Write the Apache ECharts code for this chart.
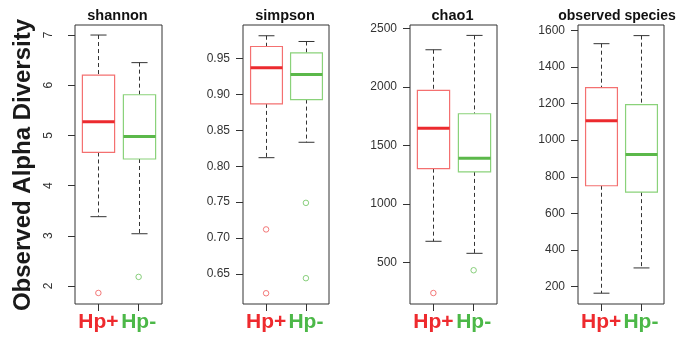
<!DOCTYPE html>
<html>
<head>
<meta charset="utf-8">
<script src="https://cdn.jsdelivr.net/npm/echarts@6.0.0/dist/echarts.min.js"></script>
<style>
  html, body { margin: 0; padding: 0; background: #fff; }
  #chart { width: 686px; height: 338px; }
</style>
</head>
<body>
<div id="chart"></div>
<script>
// groups on the x axis (positions 1 and 2)
const categories = ["Hp+", "Hp-"];
const panelTitles = ["shannon", "simpson", "chao1", "observed species"];

// [lower whisker, Q1, median, Q3, upper whisker] for Hp+ and Hp-
const shannonStats = [[3.38, 4.66, 5.27, 6.2, 7.0], [3.04, 4.53, 4.98, 5.81, 6.45]];
const simpsonStats = [[0.812, 0.887, 0.9375, 0.967, 0.982], [0.8335, 0.893, 0.928, 0.958, 0.974]];
const chao1Stats = [[680, 1302, 1647, 1973, 2320], [577, 1274, 1391, 1772, 2443]];
const speciesStats = [[164, 751, 1106, 1287, 1527], [302, 716, 921, 1194, 1571]];

// outliers per group
const shannonOutliers = [[1.86], [2.18]];
const simpsonOutliers = [[0.712, 0.623], [0.749, 0.644]];
const chao1Outliers = [[237], [432]];
const speciesOutliers = [[], []];

// tick labels on the y axes
const shannonTicks = [2, 3, 4, 5, 6, 7];
const simpsonTicks = [0.65, 0.7, 0.75, 0.8, 0.85, 0.9, 0.95];
const chao1Ticks = [500, 1000, 1500, 2000, 2500];
const speciesTicks = [200, 400, 600, 800, 1000, 1200, 1400, 1600];

const FONT = "'Liberation Sans', Arial, Helvetica, sans-serif";
const boxColors = ["#f47070", "#8ad27a"];
const medianColors = ["#ec2a2e", "#5bb84a"];
const pointColors = ["#f05a5a", "#6cc35c"];
const labelColors = ["#ee2a2e", "#4cb848"];
const ink = "#333";

const panels = [
  { stats: shannonStats, outliers: shannonOutliers, ticks: shannonTicks, min: 1.64, max: 7.2, rotate: 90, margin: 20, fmt: (v) => String(v) },
  { stats: simpsonStats, outliers: simpsonOutliers, ticks: simpsonTicks, min: 0.608, max: 0.997, rotate: 0, margin: 13, fmt: (v) => v.toFixed(2) },
  { stats: chao1Stats, outliers: chao1Outliers, ticks: chao1Ticks, min: 143, max: 2532, rotate: 0, margin: 13, fmt: (v) => String(v) },
  { stats: speciesStats, outliers: speciesOutliers, ticks: speciesTicks, min: 105, max: 1629, rotate: 0, margin: 13, fmt: (v) => String(v) },
];

const gridLefts = [75, 243, 410, 578];
const gridWidths = [87, 86, 87, 86];

function renderBox(params, api) {
  const x = api.value(0);
  const lo = api.coord([x, api.value(1)]);
  const q1 = api.coord([x, api.value(2)]);
  const med = api.coord([x, api.value(3)]);
  const q3 = api.coord([x, api.value(4)]);
  const hi = api.coord([x, api.value(5)]);
  const bw = api.size([0.8, 0])[0];
  const cw = bw / 2;
  const cx = Math.round(lo[0]) + 0.5;
  const i = params.dataIndex;
  const dash = { stroke: ink, lineWidth: 1, lineDash: [4, 3] };
  const solid = { stroke: ink, lineWidth: 1 };
  return {
    type: "group",
    children: [
      { type: "line", shape: { x1: cx, y1: hi[1], x2: cx, y2: q3[1] }, style: dash },
      { type: "line", shape: { x1: cx, y1: q1[1], x2: cx, y2: lo[1] }, style: dash },
      { type: "line", shape: { x1: cx - cw / 2, y1: hi[1], x2: cx + cw / 2, y2: hi[1] }, style: solid },
      { type: "line", shape: { x1: cx - cw / 2, y1: lo[1], x2: cx + cw / 2, y2: lo[1] }, style: solid },
      {
        type: "rect",
        shape: { x: cx - bw / 2, y: q3[1], width: bw, height: q1[1] - q3[1] },
        style: { fill: "#fff", stroke: boxColors[i], lineWidth: 1.2 },
      },
      {
        type: "line",
        shape: { x1: cx - bw / 2, y1: med[1], x2: cx + bw / 2, y2: med[1] },
        style: { stroke: medianColors[i], lineWidth: 3 },
      },
    ],
  };
}

const grids = [];
const xAxes = [];
const yAxes = [];
const graphics = [];
const series = [];

panels.forEach((p, k) => {
  grids.push({
    left: gridLefts[k], width: gridWidths[k], top: 25, height: 279,
    show: true, borderColor: ink, borderWidth: 1, backgroundColor: "transparent",
  });
  graphics.push({
    type: "text",
    x: gridLefts[k] + gridWidths[k] / 2 - (k === 3 ? 4 : 1),
    y: 23,
    style: {
      text: panelTitles[k],
      fontFamily: FONT, fontSize: k === 3 ? 14 : 14.5, fontWeight: "bold", fill: "#111",
      align: "center", verticalAlign: "bottom",
    },
  });
  xAxes.push({
    type: "value", gridIndex: k, min: 0.42, max: 2.58,
    axisLine: { show: false },
    splitLine: { show: false },
    axisTick: { show: true, length: 7, customValues: [1, 2], lineStyle: { color: ink } },
    axisLabel: {
      customValues: [1, 2],
      margin: 8,
      formatter: (v) => (v === 1 ? "{a|" + categories[0] + "}" : "{b|" + categories[1] + "}"),
      rich: {
        a: { fontFamily: FONT, fontSize: 21, fontWeight: "bold", color: labelColors[0] },
        b: { fontFamily: FONT, fontSize: 21, fontWeight: "bold", color: labelColors[1] },
      },
    },
  });
  yAxes.push({
    type: "value", gridIndex: k, min: p.min, max: p.max,
    axisLine: { show: false },
    splitLine: { show: false },
    axisTick: { show: true, length: 7, customValues: p.ticks, lineStyle: { color: ink } },
    axisLabel: {
      customValues: p.ticks,
      rotate: p.rotate,
      margin: p.margin,
      formatter: p.fmt,
      fontFamily: FONT, fontSize: 12, color: "#333",
    },
  });
  series.push({
    type: "custom",
    xAxisIndex: k, yAxisIndex: k,
    renderItem: renderBox,
    encode: { x: 0, y: [1, 2, 3, 4, 5] },
    data: p.stats.map((s, i) => [i + 1].concat(s)),
    silent: true,
  });
  const pts = [];
  p.outliers.forEach((list, i) => {
    list.forEach((v) => {
      pts.push({ value: [i + 1, v], itemStyle: { color: "transparent", borderColor: pointColors[i], borderWidth: 1 } });
    });
  });
  series.push({
    type: "scatter",
    xAxisIndex: k, yAxisIndex: k,
    symbol: "circle", symbolSize: 5.5,
    data: pts,
    silent: true,
  });
});

graphics.push({
  type: "text",
  x: 23, y: 165,
  rotation: Math.PI / 2,
  style: {
    text: "Observed Alpha Diversity",
    fontFamily: FONT, fontSize: 24, fontWeight: "bold", fill: "#1a1a1a",
    align: "center", verticalAlign: "middle",
  },
});

const chart = echarts.init(document.getElementById("chart"), null, { renderer: "canvas" });
chart.setOption({
  animation: false,
  backgroundColor: "#fff",
  grid: grids,
  xAxis: xAxes,
  yAxis: yAxes,
  series: series,
  graphic: graphics,
});
</script>
</body>
</html>
